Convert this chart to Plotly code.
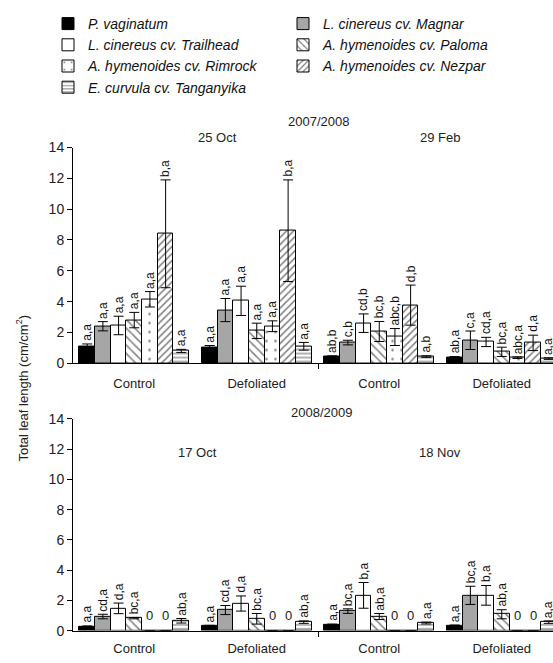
import plotly.graph_objects as go

# ---------------- data ----------------
species = ["P. vaginatum", "L. cinereus cv. Magnar", "L. cinereus cv. Trailhead",
           "A. hymenoides cv. Paloma", "A. hymenoides cv. Rimrock",
           "A. hymenoides cv. Nezpar", "E. curvula cv. Tanganyika"]
treatments = ["Control", "Defoliated", "Control", "Defoliated"]

# 2007/2008 : 25 Oct Control, 25 Oct Defoliated, 29 Feb Control, 29 Feb Defoliated
top_vaginatum = [1.05, 1.00, 0.43, 0.38]
top_magnar = [2.40, 3.45, 1.34, 1.49]
top_trailhead = [2.45, 4.05, 2.60, 1.38]
top_paloma = [2.80, 2.10, 2.06, 0.74]
top_rimrock = [4.15, 2.40, 1.70, 0.36]
top_nezpar = [8.40, 8.60, 3.77, 1.32]
top_tanganyika = [0.80, 1.10, 0.43, 0.30]

top_err_vaginatum = [0.20, 0.15, 0.05, 0.05]
top_err_magnar = [0.30, 0.75, 0.15, 0.60]
top_err_trailhead = [0.60, 0.95, 0.60, 0.30]
top_err_paloma = [0.50, 0.50, 0.65, 0.30]
top_err_rimrock = [0.50, 0.35, 0.55, 0.05]
top_err_nezpar = [3.50, 3.30, 1.30, 0.50]
top_err_tanganyika = [0.10, 0.25, 0.05, 0.05]

top_let_vaginatum = ["a,a", "a,a", "ab,b", "ab,a"]
top_let_magnar = ["a,a", "a,a", "c,b", "c,a"]
top_let_trailhead = ["a,a", "a,a", "cd,b", "cd,a"]
top_let_paloma = ["a,a", "a,a", "bc,b", "bc,a"]
top_let_rimrock = ["a,a", "a,a", "abc,b", "abc,a"]
top_let_nezpar = ["b,a", "b,a", "d,b", "d,a"]
top_let_tanganyika = ["a,a", "a,a", "a,b", "a,a"]

# 2008/2009 : 17 Oct Control, 17 Oct Defoliated, 18 Nov Control, 18 Nov Defoliated
bot_vaginatum = [0.28, 0.32, 0.39, 0.34]
bot_magnar = [0.93, 1.36, 1.29, 2.33]
bot_trailhead = [1.47, 1.79, 2.33, 2.33]
bot_paloma = [0.82, 0.78, 0.93, 1.08]
bot_rimrock = [0, 0, 0, 0]
bot_nezpar = [0, 0, 0, 0]
bot_tanganyika = [0.65, 0.56, 0.50, 0.56]

bot_err_vaginatum = [0.03, 0.03, 0.04, 0.03]
bot_err_magnar = [0.15, 0.30, 0.15, 0.60]
bot_err_trailhead = [0.35, 0.50, 0.85, 0.65]
bot_err_paloma = [0.04, 0.35, 0.20, 0.30]
bot_err_rimrock = [0, 0, 0, 0]
bot_err_nezpar = [0, 0, 0, 0]
bot_err_tanganyika = [0.15, 0.08, 0.06, 0.08]

bot_let_vaginatum = ["a,a", "a,a", "a,a", "a,a"]
bot_let_magnar = ["cd,a", "cd,a", "bc,a", "bc,a"]
bot_let_trailhead = ["d,a", "d,a", "b,a", "b,a"]
bot_let_paloma = ["bc,a", "bc,a", "ab,a", "ab,a"]
bot_let_rimrock = [None, None, None, None]
bot_let_nezpar = [None, None, None, None]
bot_let_tanganyika = ["ab,a", "ab,a", "a,a", "a,a"]

y_ticks = [0, 2, 4, 6, 8, 10, 12, 14]

# ---------------- styling ----------------
FONT = "Liberation Sans, Arial, sans-serif"
W, H = 553, 663
styles = [
    dict(color="black", pattern=dict(shape="")),
    dict(color="#a6a6a6", pattern=dict(shape="")),
    dict(color="white", pattern=dict(shape="")),
    dict(color="white", pattern=dict(shape="\\", size=6, solidity=0.25, fgcolor="black")),
    dict(color="white", pattern=dict(shape=".", size=9, solidity=0.06, fgcolor="black")),
    dict(color="white", pattern=dict(shape="/", size=5, solidity=0.3, fgcolor="black")),
    dict(color="white", pattern=dict(shape="-", size=4, solidity=0.3, fgcolor="black")),
]

top_vals = [top_vaginatum, top_magnar, top_trailhead, top_paloma, top_rimrock, top_nezpar, top_tanganyika]
top_errs = [top_err_vaginatum, top_err_magnar, top_err_trailhead, top_err_paloma, top_err_rimrock, top_err_nezpar, top_err_tanganyika]
top_lets = [top_let_vaginatum, top_let_magnar, top_let_trailhead, top_let_paloma, top_let_rimrock, top_let_nezpar, top_let_tanganyika]
bot_vals = [bot_vaginatum, bot_magnar, bot_trailhead, bot_paloma, bot_rimrock, bot_nezpar, bot_tanganyika]
bot_errs = [bot_err_vaginatum, bot_err_magnar, bot_err_trailhead, bot_err_paloma, bot_err_rimrock, bot_err_nezpar, bot_err_tanganyika]
bot_lets = [bot_let_vaginatum, bot_let_magnar, bot_let_trailhead, bot_let_paloma, bot_let_rimrock, bot_let_nezpar, bot_let_tanganyika]

bw = 0.128  # bar width in category units
ncat = len(treatments)


def xpos(s):
    return [c + (s - 3) * bw for c in range(ncat)]


fig = go.Figure()
annotations = []
for panel, (vals, errs, lets, xa, ya) in enumerate([
        (top_vals, top_errs, top_lets, "x", "y"),
        (bot_vals, bot_errs, bot_lets, "x2", "y2")]):
    for s, name in enumerate(species):
        st = styles[s]
        fig.add_trace(go.Bar(
            x=xpos(s), y=vals[s], width=bw, name="<i>" + name + "</i>",
            xaxis=xa, yaxis=ya, showlegend=(panel == 0), legendrank=s,
            marker=dict(color=st["color"], line=dict(color="black", width=1),
                        pattern=st["pattern"]),
            error_y=dict(type="data", array=errs[s], color="black", thickness=1, width=5,
                         visible=True),
        ))
        for c in range(ncat):
            v = vals[s][c]
            if lets[s][c] is not None:
                annotations.append(dict(
                    x=xpos(s)[c], y=v + errs[s][c], xref=xa, yref=ya,
                    text=lets[s][c], textangle=-90, showarrow=False,
                    xanchor="center", yanchor="bottom", yshift=1,
                    font=dict(family=FONT, size=12, color="#111")))
            elif v == 0:
                annotations.append(dict(
                    x=xpos(s)[c], y=0, xref=xa, yref=ya, text="0", showarrow=False,
                    xanchor="center", yanchor="bottom", yshift=6,
                    font=dict(family=FONT, size=13, color="#222")))


def px(x):
    return x / W


def py(y):
    return 1 - y / H


def text(xp, yp, t, size=13, angle=0):
    annotations.append(dict(x=px(xp), y=py(yp), xref="paper", yref="paper", text=t,
                            showarrow=False, xanchor="center", yanchor="middle",
                            textangle=angle, font=dict(family=FONT, size=size, color="#222")))


text(318, 116, "2007/2008")
text(217, 133, "25 Oct")
text(440, 133, "29 Feb")
text(321, 415, "2008/2009")
text(197, 455, "17 Oct")
text(440, 455, "18 Nov")
text(22, 390, "Total leaf length (cm/cm<sup>2</sup>)", size=13, angle=-90)

xrange = [-0.5, -0.5 + (553 - 73) / 122.5]
xcommon = dict(range=xrange, domain=[px(73), 1], showline=True, linecolor="black",
               linewidth=1, tickmode="array", tickvals=list(range(ncat)), ticktext=treatments,
               ticks="", showgrid=False, zeroline=False,
               tickfont=dict(family=FONT, size=13, color="#222"),
               minor=dict(tickmode="array", tickvals=[1.5], ticks="outside", ticklen=5,
                          tickcolor="black", showgrid=False))
ycommon = dict(range=[0, 14], tickmode="array", tickvals=y_ticks, showline=True,
               linecolor="black", linewidth=1, ticks="outside", ticklen=5, tickcolor="black",
               showgrid=False, zeroline=False,
               tickfont=dict(family=FONT, size=14, color="#222"))

fig.update_layout(
    width=W, height=H, margin=dict(l=0, r=0, t=0, b=0),
    paper_bgcolor="white", plot_bgcolor="white",
    barmode="overlay", bargap=0,
    xaxis=dict(**xcommon, anchor="y", ticklabelstandoff=8),
    yaxis=dict(**ycommon, domain=[py(364), py(143)], anchor="x"),
    xaxis2=dict(**xcommon, anchor="y2", ticklabelstandoff=6),
    yaxis2=dict(**ycommon, domain=[py(638), py(421)], anchor="x2"),
    legend=dict(orientation="h", x=px(48), y=py(0), xanchor="left", yanchor="top",
                entrywidth=190, entrywidthmode="pixels", traceorder="normal",
                font=dict(family=FONT, size=14, color="#111"),
                bgcolor="rgba(0,0,0,0)", itemwidth=30),
    annotations=annotations,
    showlegend=True,
)

fig.write_html("out.html", config={"displayModeBar": False},
               post_script="document.body.style.margin='0';document.body.style.padding='0';")
